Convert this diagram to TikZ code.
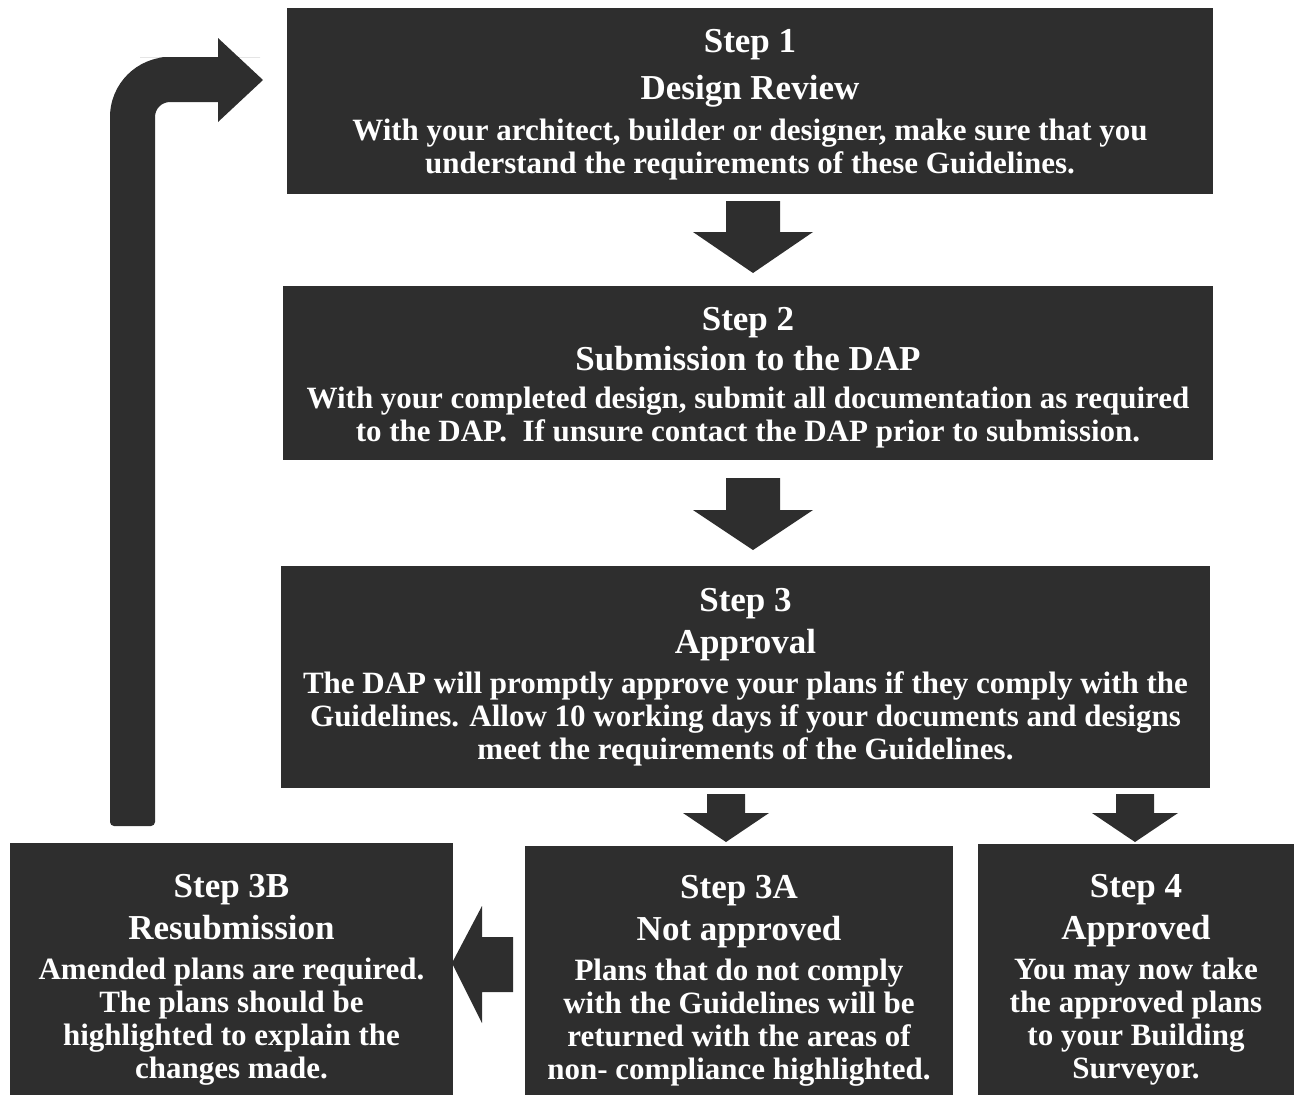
\documentclass[tikz,border=0pt]{standalone}
\usepackage{fontspec}
\setmainfont{Liberation Serif}
\usepackage{xcolor}
\usepackage{tikz}

\definecolor{boxgray}{gray}{0.18}
\newcommand{\steptitle}[1]{{\fontsize{17.5}{17.5}\selectfont #1}}
% down block arrow: x, top, base, tip, half shaft, half head
\newcommand{\blockdown}[6]{%
  \fill[blockarrow] ({#1-#5},#2) -- ({#1+#5},#2) -- ({#1+#5},#3) -- ({#1+#6},#3)
    -- (#1,#4) -- ({#1-#6},#3) -- ({#1-#5},#3) -- cycle;}

\begin{document}
\begin{tikzpicture}[x=0.5pt, y=-0.5pt,
    stepbox/.style={fill=boxgray, text=white, align=center, inner sep=0pt,
      font=\bfseries\fontsize{15.5}{16.5}\selectfont},
    blockarrow/.style={fill=boxgray}]
    \useasboundingbox (0,0) rectangle (1297,1099);

    \node[stepbox, minimum width=463pt, minimum height=93pt] (s1) at (750,101)
        {\rule{0pt}{15pt}\steptitle{Step 1}\\[7pt] \steptitle{Design Review}\\[4pt]
         With your architect, builder or designer, make sure that you\\
         understand the requirements of these Guidelines.};
    \node[stepbox, minimum width=465pt, minimum height=87pt] (s2) at (748,373)
        {\rule{0pt}{16pt}\steptitle{Step 2}\\[3.5pt] \steptitle{Submission to the DAP}\\[2.5pt]
         With your completed design, submit all documentation as required\\
         to the DAP.\ \ If unsure contact the DAP prior to submission.};
    \node[stepbox, minimum width=464.5pt, minimum height=111pt] (s3) at (745.5,677)
        {\steptitle{Step 3}\\[4.5pt] \steptitle{Approval}\\[3.5pt]
         The DAP will promptly approve your plans if they comply with the\\
         Guidelines. Allow 10 working days if your documents and designs\\
         meet the requirements of the Guidelines.};
    \node[stepbox, minimum width=221.5pt, minimum height=126pt] (s3b) at (231.5,969)
        {\rule{0pt}{22pt}\steptitle{Step 3B}\\[4.5pt] \steptitle{Resubmission}\\[3.5pt]
         Amended plans are required.\\ The plans should be\\
         highlighted to explain the\\ changes made.};
    \node[stepbox, minimum width=214pt, minimum height=124.5pt] (s3a) at (739,970.5)
        {\rule{0pt}{22pt}\steptitle{Step 3A}\\[4.5pt] \steptitle{Not approved}\\[3.5pt]
         Plans that do not comply\\ with the Guidelines will be\\
         returned with the areas of\\ non- compliance highlighted.};
    \node[stepbox, minimum width=158pt, minimum height=125.5pt] (s4) at (1136,969.5)
        {\rule{0pt}{22pt}\steptitle{Step 4}\\[4.5pt] \steptitle{Approved}\\[3.5pt]
         You may now take\\ the approved plans\\
         to your Building\\ Surveyor.};

    % arrows between the steps
    \blockdown{753}{201}{232}{273}{27}{60}
    \blockdown{753}{478}{510}{550}{27}{60}
    \blockdown{726}{794}{813}{842}{19}{43}
    \blockdown{1135}{794}{813}{842}{19}{43}
    \fill[blockarrow] (513,937) -- (513,992) -- (482,992) -- (482,1023)
        -- (452,963) -- (482,906) -- (482,937) -- cycle;

    % back to step 1
    \fill[blockarrow] (110,500) [rounded corners=30pt] -- (110,57) -- (200,57)
        [sharp corners] -- (218,57) -- (218,38) -- (263,80) -- (218,122)
        -- (218,102) -- (200,102) [rounded corners=7.5pt] -- (155,102)
        -- (155,500) [rounded corners=2pt] -- (155,826) -- (110,826) -- cycle;
\end{tikzpicture}
\end{document}
